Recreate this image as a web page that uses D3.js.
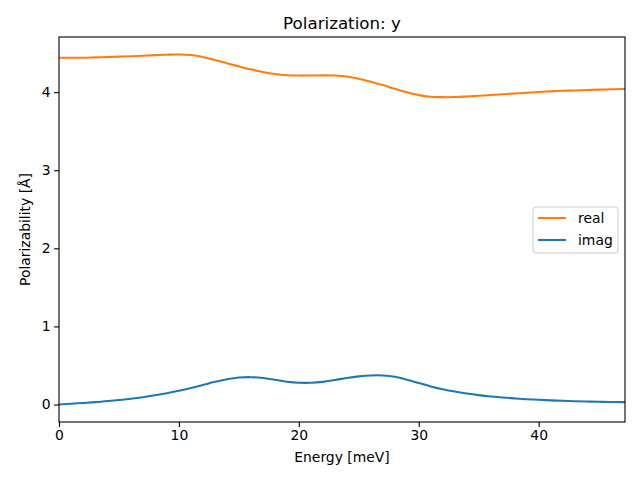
<!DOCTYPE html>
<html><head><meta charset="utf-8">
<script src="https://cdn.jsdelivr.net/npm/d3@7"></script>
<style>body{margin:0;background:#fff}svg{display:block}text{font-family:"DejaVu Sans",sans-serif;fill:#000}</style>
</head><body><svg id="c" width="640" height="480"></svg>
<script>
const energy = [0,1,2,3,4,5,6,7,8,9,10,11,12,13,14,15,16,17,18,19,20,21,22,23,24,25,26,27,28,29,30,31,32,33,34,35,36,37,38,39,40,41,42,43,44,45,46,47,47.2];
const realVals = [4.44,4.44,4.44,4.445,4.45,4.455,4.46,4.467,4.474,4.479,4.482,4.475,4.45,4.412,4.37,4.33,4.292,4.258,4.232,4.217,4.212,4.213,4.215,4.213,4.2,4.172,4.133,4.09,4.043,3.998,3.962,3.942,3.936,3.937,3.944,3.953,3.963,3.973,3.983,3.993,4.002,4.01,4.017,4.022,4.027,4.032,4.036,4.04,4.04];
const imagVals = [0.0,0.01,0.02,0.03,0.044,0.058,0.074,0.094,0.118,0.145,0.175,0.21,0.25,0.29,0.324,0.345,0.35,0.34,0.317,0.292,0.279,0.278,0.29,0.314,0.34,0.36,0.372,0.372,0.356,0.318,0.276,0.232,0.196,0.166,0.141,0.12,0.103,0.09,0.078,0.068,0.06,0.053,0.047,0.042,0.038,0.035,0.032,0.03,0.03];
const xTicks = [0,10,20,30,40];
const yTicks = [0,1,2,3,4];
const seriesNames = ["real","imag"];
const seriesColors = ["#ff7f0e","#1f77b4"];

const L=59,R=625,T=37,B=422;
const svg=d3.select("#c");
const x=d3.scaleLinear().domain([0,47.2]).range([L,R]);
const ymin=Math.min(d3.min(realVals),d3.min(imagVals)), ymax=Math.max(d3.max(realVals),d3.max(imagVals));
const pad=(ymax-ymin)*0.05;
const y=d3.scaleLinear().domain([ymin-pad,ymax+pad]).range([B,T]);

svg.append("defs").append("clipPath").attr("id","clip").append("rect").attr("x",L).attr("y",T).attr("width",R-L).attr("height",B-T);

const line=d3.line().x(d=>x(d[0])).y(d=>y(d[1])).curve(d3.curveCatmullRom.alpha(0.5));
const series=[realVals,imagVals];
series.forEach((vals,i)=>{
  svg.append("path").datum(energy.map((e,j)=>[e,vals[j]]))
    .attr("d",line).attr("fill","none").attr("stroke",seriesColors[i]).attr("stroke-width",2.08)
    .attr("clip-path","url(#clip)");
});

const xa=svg.append("g").attr("transform",`translate(0,${B})`).call(d3.axisBottom(x).tickValues(xTicks).tickFormat(d3.format("d")).tickSize(4.9).tickPadding(3.5));
const ya=svg.append("g").attr("transform",`translate(${L},0)`).call(d3.axisLeft(y).tickValues(yTicks).tickFormat(d3.format("d")).tickSize(4.9).tickPadding(3.5));
[xa,ya].forEach(a=>{a.select(".domain").remove();a.selectAll("line").attr("stroke","#000").attr("stroke-width",1.1);a.selectAll("text").attr("font-size","13.9px").attr("font-family","DejaVu Sans").attr("fill","#000");});

svg.append("rect").attr("x",L).attr("y",T).attr("width",R-L).attr("height",B-T).attr("fill","none").attr("stroke","#000").attr("stroke-width",1.1);

svg.append("text").attr("x",(L+R)/2).attr("y",29).attr("text-anchor","middle").attr("font-size","16.7px").text("Polarization: y");
svg.append("text").attr("x",(L+R)/2).attr("y",462).attr("text-anchor","middle").attr("font-size","13.9px").text("Energy [meV]");
svg.append("text").attr("transform",`translate(30,${(T+B)/2}) rotate(-90)`).attr("text-anchor","middle").attr("font-size","13.9px").text("Polarizability [Å]");

const lg=svg.append("g");
lg.append("rect").attr("x",533).attr("y",207).attr("width",85).attr("height",46).attr("rx",3).attr("fill","#fff").attr("fill-opacity",0.8).attr("stroke","#ccc").attr("stroke-width",1);
seriesNames.forEach((n,i)=>{
  const yy=218+i*22;
  lg.append("line").attr("x1",538).attr("x2",566).attr("y1",yy).attr("y2",yy).attr("stroke",seriesColors[i]).attr("stroke-width",2.08);
  lg.append("text").attr("x",578).attr("y",yy+5).attr("font-size","13.9px").text(n);
});
</script></body></html>
